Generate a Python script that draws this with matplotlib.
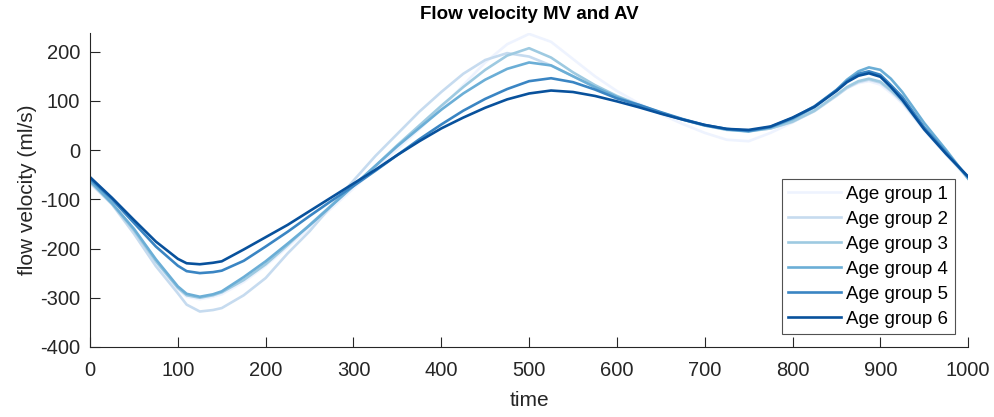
import matplotlib.pyplot as plt

plt.rcParams['font.family'] = ['Liberation Sans', 'DejaVu Sans']
plt.rcParams['axes.unicode_minus'] = False

# time points
t = [0, 25, 50, 75, 100, 110, 125, 140, 150, 175, 200, 225, 250, 275, 300, 325, 350, 375,
     400, 425, 450, 475, 500, 525, 550, 575, 600, 625, 650, 675, 700, 725, 750, 775, 800,
     825, 850, 862, 875, 887, 900, 912, 925, 950, 975, 1000]

g1 = [-68, -110, -167, -230, -283, -298, -303, -298, -293, -268, -235, -197, -158, -118, -78,
      -38, 2, 42, 85, 132, 178, 215, 236, 220, 185, 150, 120, 95, 73, 53, 35, 21, 18, 35, 56,
      82, 112, 126, 136, 140, 133, 116, 95, 40, -10, -58]
g2 = [-66, -110, -170, -236, -291, -314, -328, -325, -321, -295, -260, -210, -165, -113, -62,
      -12, 33, 78, 118, 155, 183, 197, 190, 172, 150, 128, 108, 90, 75, 62, 50, 42, 39, 44, 57,
      79, 110, 126, 138, 143, 137, 120, 98, 42, -8, -57]
g3 = [-64, -109, -163, -226, -280, -295, -300, -295, -289, -264, -232, -193, -152, -112, -72,
      -32, 10, 50, 90, 128, 163, 192, 207, 188, 158, 132, 110, 92, 76, 62, 50, 41, 38, 44, 58,
      80, 112, 128, 140, 145, 139, 122, 100, 44, -6, -57]
g4 = [-62, -108, -160, -222, -277, -292, -298, -293, -287, -258, -226, -190, -153, -113, -73,
      -32, 8, 45, 82, 115, 143, 165, 178, 172, 150, 128, 108, 90, 75, 62, 50, 42, 38, 46, 63,
      87, 122, 143, 160, 168, 163, 145, 118, 55, 0, -58]
g5 = [-58, -100, -148, -196, -235, -246, -250, -248, -245, -225, -196, -166, -134, -103, -73,
      -42, -10, 22, 52, 80, 104, 124, 140, 146, 138, 123, 105, 92, 77, 63, 51, 43, 39, 47, 65,
      89, 122, 140, 155, 160, 153, 132, 108, 46, -5, -55]
g6 = [-55, -97, -142, -186, -221, -230, -232, -229, -226, -202, -177, -152, -124, -96, -68,
      -40, -10, 18, 44, 66, 86, 103, 115, 121, 118, 110, 99, 87, 74, 62, 51, 43, 41, 48, 66,
      88, 120, 138, 151, 156, 149, 128, 102, 42, -8, -54]

groups = [g1, g2, g3, g4, g5, g6]
labels = ['Age group 1', 'Age group 2', 'Age group 3', 'Age group 4', 'Age group 5', 'Age group 6']
colors = ['#eef3fe', '#c6dbef', '#9ecae1', '#6baed6', '#3a85c3', '#08519c']

fig = plt.figure(figsize=(9.95, 4.17), dpi=100)
ax = fig.add_axes([0.0905, 0.168, 0.8825, 0.753])

for vals, lab, c in zip(groups, labels, colors):
    ax.plot(t, vals, '-', color=c, lw=1.9, label=lab)

ax.set_xlim(0, 1000)
ax.set_ylim(-400, 238)
ax.set_xticks(range(0, 1001, 100))
ax.set_yticks(range(-400, 201, 100))

for s in ['top', 'right']:
    ax.spines[s].set_visible(False)
for s in ['left', 'bottom']:
    ax.spines[s].set_color('#262626')
    ax.spines[s].set_linewidth(0.8)
ax.tick_params(direction='in', length=7, width=0.8, colors='#262626', labelsize=14.5)
ax.tick_params(axis='x', pad=10)
ax.tick_params(axis='y', pad=7)

ax.set_title('Flow velocity MV and AV', fontsize=13.5, fontweight='bold', pad=10)
ax.set_xlabel('time', fontsize=15, color='#262626', labelpad=8)
ax.set_ylabel('flow velocity (ml/s)', fontsize=15, color='#262626', labelpad=2)

leg = ax.legend(loc='lower right', bbox_to_anchor=(0.985, 0.041), fontsize=13.5, frameon=True,
                fancybox=False, edgecolor='#262626', handlelength=2.8, handletextpad=0.3,
                labelspacing=0.42, borderpad=0.35, borderaxespad=0)
leg.get_frame().set_linewidth(0.8)

plt.savefig('out.png', dpi=100)
